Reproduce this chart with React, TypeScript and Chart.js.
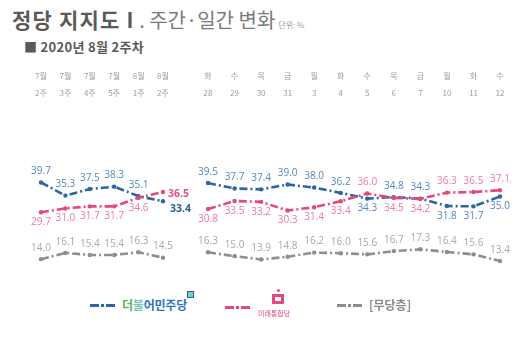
import React, { useEffect, useRef } from 'react';
import { Chart, registerables } from 'chart.js';

Chart.register(...registerables);

// ---- weekly (주간) ----
const weeklyMonths = ['7월', '7월', '7월', '7월', '8월', '8월'];
const weeklyWeeks = ['2주', '3주', '4주', '5주', '1주', '2주'];
const weeklyDemocratic = [39.7, 35.3, 37.5, 38.3, 35.1, 33.4];
const weeklyUnited = [29.7, 31.0, 31.7, 31.7, 34.6, 36.5];
const weeklyNone = [14.0, 16.1, 15.4, 15.4, 16.3, 14.5];

// ---- daily (일간) ----
const dailyWeekdays = ['화', '수', '목', '금', '월', '화', '수', '목', '금', '월', '화', '수'];
const dailyDates = ['28', '29', '30', '31', '3', '4', '5', '6', '7', '10', '11', '12'];
const dailyDemocratic = [39.5, 37.7, 37.4, 39.0, 38.0, 36.2, 34.3, 34.8, 34.3, 31.8, 31.7, 35.0];
const dailyUnited = [30.8, 33.5, 33.2, 30.3, 31.4, 33.4, 36.0, 34.5, 34.2, 36.3, 36.5, 37.1];
const dailyNone = [16.3, 15.0, 13.9, 14.8, 16.2, 16.0, 15.6, 16.7, 17.3, 16.4, 15.6, 13.4];

// label placement: a = above, b = below, r = right, rb = right-below
const weeklyDemSpots = ['a', 'a', 'a', 'a', 'a', 'rb'];
const weeklyUniSpots = ['b', 'b', 'b', 'b', 'b', 'r'];
const weeklyNoneSpots = ['a', 'a', 'a', 'a', 'a', 'a'];
const dailyDemSpots = ['a', 'a', 'a', 'a', 'a', 'a', 'b', 'a', 'a', 'b', 'b', 'b'];
const dailyUniSpots = ['b', 'b', 'b', 'b', 'b', 'b', 'a', 'b', 'b', 'a', 'a', 'a'];
const dailyNoneSpots = ['a', 'a', 'a', 'a', 'a', 'a', 'a', 'a', 'a', 'a', 'a', 'a'];

const BLUE = '#2c66a6';
const BLUE_LABEL = '#5187bb';
const BLUE_BOLD = '#2d6092';
const PINK = '#e4497a';
const PINK_LABEL = '#ec7a9c';
const PINK_BOLD = '#e2527e';
const GRAY = '#8e8e8e';
const GRAY_LABEL = '#a8a8a8';

const KR = '"Noto Sans CJK KR", "Noto Sans", sans-serif';
const NUM = '"Open Sans", "Noto Sans CJK KR", sans-serif';
const DASH = [8, 3, 2, 3];

const valueLabels = {
  id: 'valueLabels',
  afterDatasetsDraw(chart: any) {
    const ctx = chart.ctx;
    chart.data.datasets.forEach((ds: any, i: number) => {
      const meta = chart.getDatasetMeta(i);
      meta.data.forEach((pt: any, j: number) => {
        const spot = ds.labelSpots[j];
        const text = Number(ds.data[j]).toFixed(1);
        ctx.save();
        ctx.textBaseline = 'middle';
        if (spot === 'r' || spot === 'rb') {
          ctx.font = `bold 10.5px ${NUM}`;
          ctx.fillStyle = ds.boldColor;
          ctx.textAlign = 'left';
          if (spot === 'r') ctx.fillText(text, pt.x + 5, pt.y + 1.5);
          else ctx.fillText(text, pt.x + 7, pt.y + 8);
        } else {
          ctx.font = `10px ${NUM}`;
          ctx.fillStyle = ds.labelColor;
          ctx.textAlign = 'center';
          ctx.fillText(text, pt.x, spot === 'a' ? pt.y - 11 : pt.y + 10);
        }
        ctx.restore();
      });
    });
  },
};

function lineDataset(data: number[], color: string, labelColor: string, boldColor: string, spots: string[]) {
  return {
    data,
    borderColor: color,
    backgroundColor: color,
    borderWidth: 2.6,
    borderDash: DASH,
    tension: 0,
    pointRadius: 2.2,
    pointBorderWidth: 0,
    pointBackgroundColor: color,
    fill: false,
    labelColor,
    boldColor,
    labelSpots: spots,
  };
}

function makeConfig(
  top: string[],
  bottom: string[],
  dem: number[],
  uni: number[],
  none: number[],
  spots: string[][],
  padLeft: number,
  padRight: number
): any {
  return {
    type: 'line',
    data: {
      labels: top.map((t, i) => [t, bottom[i]]),
      datasets: [
        lineDataset(none, GRAY, GRAY_LABEL, GRAY_LABEL, spots[2]),
        lineDataset(uni, PINK, PINK_LABEL, PINK_BOLD, spots[1]),
        lineDataset(dem, BLUE, BLUE_LABEL, BLUE_BOLD, spots[0]),
      ],
    },
    options: {
      responsive: false,
      animation: false,
      layout: { padding: { left: padLeft, right: padRight, top: 0, bottom: 3 } },
      plugins: { legend: { display: false }, tooltip: { enabled: false } },
      scales: {
        x: {
          position: 'top',
          offset: false,
          grid: { display: false, drawTicks: false },
          border: { display: false },
          ticks: {
            color: '#9c9c9c',
            font: { size: 8, family: KR, lineHeight: 17 / 8 },
            padding: 2.5,
            autoSkip: false,
            maxRotation: 0,
          },
          afterFit: (s: any) => {
            s.height = 104;
          },
        },
        y: { display: false, min: 5, max: 66 },
      },
    },
    plugins: [valueLabels],
  };
}

function LineChart(props: { left: number; width: number; height: number; config: any }) {
  const ref = useRef<HTMLCanvasElement | null>(null);
  useEffect(() => {
    if (!ref.current) return;
    const chart = new Chart(ref.current, props.config);
    return () => chart.destroy();
  }, []);
  return (
    <canvas
      ref={ref}
      width={props.width}
      height={props.height}
      style={{ position: 'absolute', left: props.left, top: 0, width: props.width, height: props.height }}
    />
  );
}

function DashGlyph({ color, left, top }: { color: string; left: number; top: number }) {
  const seg = (l: number, w: number) => (
    <span style={{ position: 'absolute', left: l, top: 0, width: w, height: 3, background: color }} />
  );
  return (
    <div style={{ position: 'absolute', left, top, width: 25, height: 3 }}>
      {seg(0, 9)}
      {seg(11, 3)}
      {seg(16, 9)}
    </div>
  );
}

export default function App() {
  const weeklyConfig = makeConfig(
    weeklyMonths,
    weeklyWeeks,
    weeklyDemocratic,
    weeklyUnited,
    weeklyNone,
    [weeklyDemSpots, weeklyUniSpots, weeklyNoneSpots],
    41,
    32
  );
  const dailyConfig = makeConfig(
    dailyWeekdays,
    dailyDates,
    dailyDemocratic,
    dailyUnited,
    dailyNone,
    [dailyDemSpots, dailyUniSpots, dailyNoneSpots],
    18,
    30
  );
  return (
    <div
      style={{
        position: 'absolute',
        left: 0,
        top: 0,
        width: 530,
        height: 342,
        background: '#ffffff',
        overflow: 'hidden',
        fontFamily: KR,
      }}
    >
      <div style={{ position: 'absolute', left: 12, top: 5, whiteSpace: 'nowrap', lineHeight: '28px' }}>
        <span style={{ fontSize: 21, fontWeight: 700, color: '#5a5a5a', letterSpacing: 1.2 }}>정당 지지도 I</span>
        <span style={{ fontSize: 20, fontWeight: 400, color: '#7a7a7a', letterSpacing: 0 }}> . 주간·일간 변화</span>
        <span style={{ fontSize: 8, color: '#9a9a9a', marginLeft: 3 }}>단위: %</span>
      </div>
      <div
        style={{
          position: 'absolute',
          left: 24,
          top: 39,
          fontSize: 13,
          fontWeight: 700,
          color: '#5a5a5a',
          whiteSpace: 'nowrap',
          lineHeight: '16px',
          letterSpacing: 0.3,
        }}
      >
        ■ 2020년 8월 2주차
      </div>

      <LineChart left={0} width={195} height={290} config={weeklyConfig} />
      <LineChart left={190} width={340} height={290} config={dailyConfig} />

      {/* legend */}
      <DashGlyph color={BLUE} left={90} top={304} />
      <div
        style={{
          position: 'absolute',
          left: 122,
          top: 297,
          fontSize: 12,
          fontWeight: 700,
          lineHeight: '16px',
          whiteSpace: 'nowrap',
          letterSpacing: -0.2,
        }}
      >
        <span style={{ color: '#5fb04e' }}>더</span>
        <span style={{ color: '#7cc6c0' }}>불</span>
        <span style={{ color: '#2e72bd' }}>어민주당</span>
      </div>
      <div
        style={{
          position: 'absolute',
          left: 187,
          top: 291,
          width: 7,
          height: 7,
          background: '#7ccfc6',
          border: '1.5px solid #1f5fa8',
          boxSizing: 'border-box',
        }}
      />

      <DashGlyph color={PINK} left={225} top={306} />
      <div
        style={{
          position: 'absolute',
          left: 277,
          top: 289,
          width: 3,
          height: 3,
          borderRadius: 2,
          background: '#e4497a',
        }}
      />
      <div
        style={{
          position: 'absolute',
          left: 272,
          top: 294,
          width: 12,
          height: 10,
          border: '3px solid #e4497a',
          borderBottomRightRadius: 1,
          boxSizing: 'border-box',
        }}
      />
      <div
        style={{
          position: 'absolute',
          left: 258,
          top: 309,
          fontSize: 7,
          color: '#e4497a',
          lineHeight: '9px',
          whiteSpace: 'nowrap',
        }}
      >
        미래통합당
      </div>

      <DashGlyph color={GRAY} left={337} top={304} />
      <div
        style={{
          position: 'absolute',
          left: 369,
          top: 297,
          fontSize: 12,
          fontWeight: 700,
          color: '#8a8a8a',
          lineHeight: '16px',
          whiteSpace: 'nowrap',
        }}
      >
        [무당층]
      </div>
    </div>
  );
}
